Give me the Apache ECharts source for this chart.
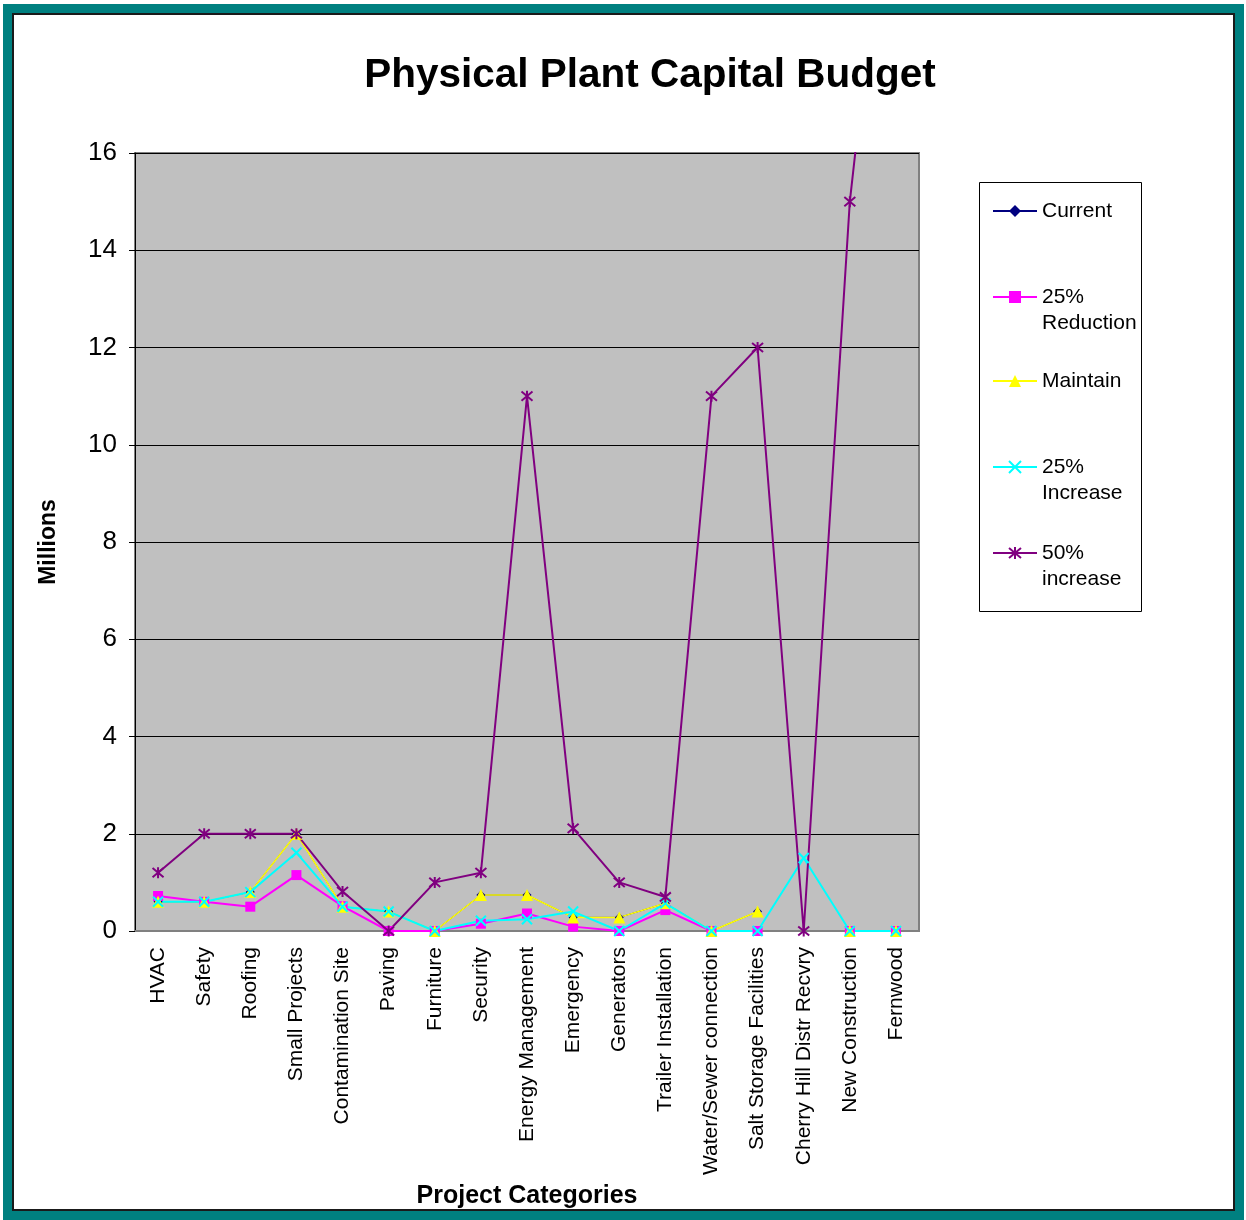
<!DOCTYPE html>
<html>
<head>
<meta charset="utf-8">
<title>Physical Plant Capital Budget</title>
<script src="https://cdn.jsdelivr.net/npm/echarts@6/dist/echarts.min.js"></script>
<style>
  html, body { margin: 0; padding: 0; background: #fff; }
  #chart { position: absolute; left: 0; top: 0; width: 1246px; height: 1220px; }
  /* teal frame round the whole picture, with a thin dark inner line */
  #frame {
    position: absolute; left: 3px; top: 4px; width: 1241px; height: 1216px;
    box-sizing: border-box; border: 9px solid #008080;
    box-shadow: inset 0 0 0 2px #1a1a1a; pointer-events: none;
  }
</style>
</head>
<body>
<div id="chart"></div>
<div id="frame"></div>
<script>
// ========== data (millions) ==========
const categories = [
  'HVAC', 'Safety', 'Roofing', 'Small Projects', 'Contamination Site', 'Paving',
  'Furniture', 'Security', 'Energy Management', 'Emergency', 'Generators',
  'Trailer Installation', 'Water/Sewer connection', 'Salt Storage Facilities',
  'Cherry Hill Distr Recvry', 'New Construction', 'Fernwood'
]
const current      = [0.6, 0.6, 0.8, 2.0, 0.5, 0.4, 0, 0.74, 0.74, 0.28, 0.28, 0.57, 0, 0.4, null, 0, 0]
const reduction25  = [0.72, 0.6, 0.5, 1.15, 0.51, 0, 0, 0.15, 0.36, 0.09, 0, 0.43, 0, 0, null, 0, 0]
const maintain     = [0.6, 0.6, 0.8, 2.0, 0.5, 0.4, 0, 0.74, 0.74, 0.28, 0.28, 0.57, 0, 0.4, null, 0, 0]
const increase25   = [0.6, 0.6, 0.8, 1.61, 0.5, 0.4, 0, 0.21, 0.24, 0.4, 0, 0.57, 0, 0, 1.5, 0, 0]
const increase50   = [1.2, 2.0, 2.0, 2.0, 0.81, 0, 1.0, 1.2, 11, 2.11, 1.0, 0.7, 11, 12, 0, 15, 23.5]
const yTicks = { min: 0, max: 16, interval: 2 }

const FONT = 'Arial, "Liberation Sans", sans-serif'
const X_MARK = 'path://M0,0L10,10M10,0L0,10'
const STAR_MARK = 'path://M0,0L10,10M10,0L0,10M5,-1L5,11'

function makeSeries(name, data, color, symbol, size, width, stroked) {
  return {
    name: name,
    type: 'line',
    data: data,
    symbol: symbol,
    symbolSize: size,
    connectNulls: false,
    lineStyle: { color: color, width: width },
    itemStyle: stroked
      ? { color: 'none', borderColor: color, borderWidth: 2 }
      : { color: color, borderWidth: 0 },
    emphasis: { disabled: true }
  }
}

// one legend per entry, so each sits where the original puts it;
// two-line names get a blank first line so the marker lines up with "25%"
function makeLegend(name, top, twoLines) {
  return {
    data: [name],
    left: 992,
    top: top,
    orient: 'vertical',
    padding: 0,
    itemWidth: 44,
    itemHeight: 15,
    selectedMode: false,
    formatter: function (n) { return twoLines ? '\n' + n : n },
    textStyle: { fontFamily: FONT, fontSize: 21, color: '#000', lineHeight: 26 }
  }
}

const chart = echarts.init(document.getElementById('chart'), null, { renderer: 'canvas' })
chart.setOption({
  animation: false,
  backgroundColor: '#fff',
  title: {
    text: 'Physical Plant Capital Budget',
    left: 645,
    top: 50,
    textAlign: 'center',
    textStyle: { fontFamily: FONT, fontSize: 40.5, fontWeight: 'bold', color: '#000' }
  },
  graphic: [{
    type: 'rect',
    shape: { x: 979.5, y: 182.5, width: 162, height: 429 },
    style: { fill: '#fff', stroke: '#000', lineWidth: 1 },
    z: -1
  }],
  legend: [
    makeLegend('Current', 198, false),
    makeLegend('25%\nReduction', 258, true),
    makeLegend('Maintain', 368, false),
    makeLegend('25%\nIncrease', 428, true),
    makeLegend('50%\nincrease', 514, true)
  ],
  grid: {
    left: 135, top: 153, width: 784, height: 778,
    outerBoundsMode: 'none',
    show: true, backgroundColor: '#C0C0C0', borderColor: '#808080', borderWidth: 2
  },
  xAxis: {
    type: 'category',
    data: categories,
    boundaryGap: true,
    name: 'Project Categories',
    nameLocation: 'middle',
    nameGap: 253,
    nameTextStyle: { fontFamily: FONT, fontSize: 25, fontWeight: 'bold', color: '#000' },
    axisLine: { lineStyle: { color: '#808080', width: 2 } },
    axisTick: { show: false },
    axisLabel: {
      rotate: 90, margin: 16, interval: 0,
      fontFamily: FONT, fontSize: 21, color: '#000'
    }
  },
  yAxis: {
    type: 'value',
    min: yTicks.min, max: yTicks.max, interval: yTicks.interval,
    name: 'Millions',
    nameLocation: 'middle',
    nameGap: 75,
    nameRotate: 90,
    nameTextStyle: { fontFamily: FONT, fontSize: 23, fontWeight: 'bold', color: '#000' },
    axisLine: { show: true, lineStyle: { color: '#000', width: 1 } },
    axisTick: { show: true, length: 6, lineStyle: { color: '#000' } },
    axisLabel: { margin: 18, fontFamily: FONT, fontSize: 26, color: '#000' },
    splitLine: { lineStyle: { color: '#000', width: 1 } }
  },
  series: [
    makeSeries('Current', current, '#000080', 'diamond', 9, 1, false),
    makeSeries('25%\nReduction', reduction25, '#FF00FF', 'rect', 10, 2, false),
    makeSeries('Maintain', maintain, '#FFFF00', 'triangle', 12, 1.5, false),
    makeSeries('25%\nIncrease', increase25, '#00FFFF', X_MARK, 10, 2, true),
    makeSeries('50%\nincrease', increase50, '#800080', STAR_MARK, 11, 2, true)
  ]
})
</script>
</body>
</html>
